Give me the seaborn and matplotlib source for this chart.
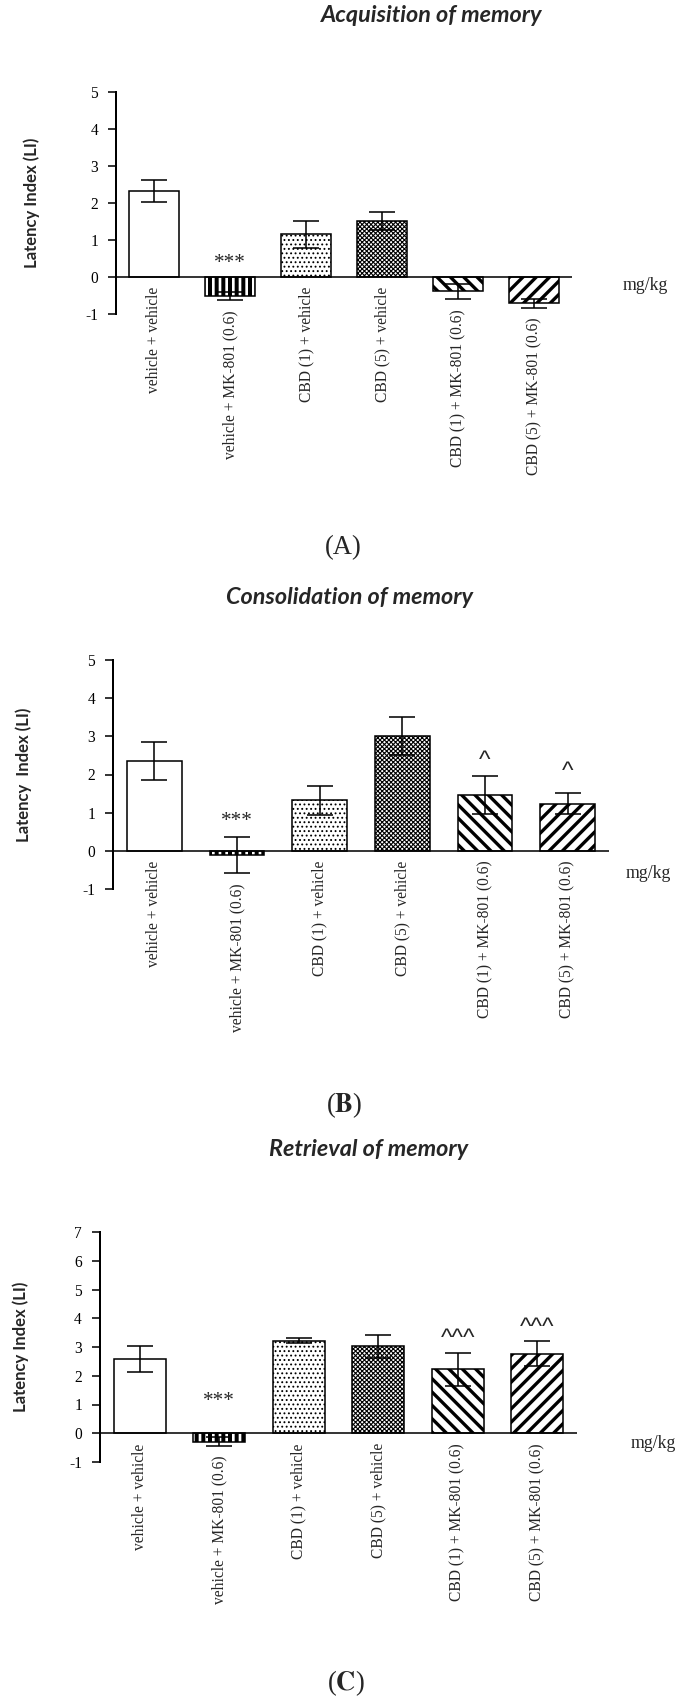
import numpy as np
import matplotlib
matplotlib.use("Agg")
import matplotlib.pyplot as plt
import seaborn as sns

# groups, shared by all three panels
groups = ["vehicle + vehicle", "vehicle + MK-801 (0.6)", "CBD (1) + vehicle",
          "CBD (5) + vehicle", "CBD (1) + MK-801 (0.6)", "CBD (5) + MK-801 (0.6)"]

# (A) acquisition
acq_mean = [2.32, -0.52, 1.15, 1.52, -0.39, -0.71]
acq_sem = [0.30, 0.11, 0.36, 0.25, 0.21, 0.12]
acq_marks = ["", "***", "", "", "", ""]
acq_mark_y = [0, 0.51, 0, 0, 0, 0]

# (B) consolidation
con_mean = [2.35, -0.12, 1.32, 3.00, 1.47, 1.24]
con_sem = [0.50, 0.47, 0.38, 0.50, 0.50, 0.27]
con_marks = ["", "***", "", "", "^", "^"]
con_mark_y = [0, 0.90, 0, 0, 2.55, 2.27]

# (C) retrieval
ret_mean = [2.58, -0.29, 3.22, 3.02, 2.23, 2.77]
ret_sem = [0.45, 0.15, 0.08, 0.40, 0.57, 0.43]
ret_marks = ["", "***", "", "", "^^^", "^^^"]
ret_mark_y = [0, 1.30, 0, 0, 3.53, 3.93]

sns.set_style("white")
plt.rcParams["font.family"] = ["Liberation Serif", "DejaVu Serif"]
plt.rcParams["axes.unicode_minus"] = False
plt.rcParams["mathtext.fontset"] = "stix"

W, H = 695, 1707
DPI = 80
fig = plt.figure(figsize=(W / DPI, H / DPI), dpi=DPI)

hatches = ["", "||", "...", "xxxxxx", "\\\\", "//"]
hatch_lw = [1.0, 3.6, 1.0, 1.0, 3.0, 3.0]


def px_axes(left, right, top, bottom):
    return [left / W, 1 - bottom / H, (right - left) / W, (bottom - top) / H]


def panel(rect, means, sems, marks, mark_y, ylim, ylabel, ylabel_x, mg_pos):
    ax = fig.add_axes(rect)
    sns.barplot(x=groups, y=means, ax=ax, color="white", saturation=1,
                edgecolor="black", linewidth=1.4, width=0.66, errorbar=None)
    for i, bar in enumerate(ax.patches):
        bar.set_hatch(hatches[i])
        if hasattr(bar, "set_hatch_linewidth"):
            bar.set_hatch_linewidth(hatch_lw[i])
    ax.errorbar(np.arange(len(means)), means, yerr=sems, fmt="none",
                ecolor="black", elinewidth=1.4, capsize=11.5, capthick=1.4,
                zorder=5)
    ax.axhline(0, color="black", lw=1.4, zorder=6)
    ax.set_xlim(-0.5, len(means) - 0.5)
    ax.set_ylim(*ylim)
    ax.set_yticks(range(ylim[0], ylim[1] + 1))
    ax.set_xticks([])
    ax.set_xlabel("")
    for s in ["top", "right", "bottom"]:
        ax.spines[s].set_visible(False)
    ax.spines["left"].set_linewidth(1.8)
    ax.spines["left"].set_color("black")
    ax.tick_params(axis="y", direction="out", length=7.2, width=1.4,
                   pad=9, labelsize=14, left=True, colors="black")
    ax.set_ylabel(ylabel, family=["Lato", "DejaVu Sans"], fontweight="bold",
                  fontsize=15, va="center")
    ax.yaxis.set_label_coords(ylabel_x, 0.5)
    ax.patch.set_alpha(0)

    # category names hang under each bar
    for i, (m, e) in enumerate(zip(means, sems)):
        y = min(0, m - e)
        ax.annotate(groups[i], (i, y), xytext=(0, -9), textcoords="offset points",
                    rotation=90, ha="center", va="top", fontsize=14,
                    annotation_clip=False)
    # significance marks
    for i, mk in enumerate(marks):
        if not mk:
            continue
        if "*" in mk:
            ax.annotate(mk, (i, mark_y[i]), xytext=(0, -0.47 * 19),
                        textcoords="offset points", ha="center", va="baseline",
                        fontsize=19, annotation_clip=False)
        else:
            ax.annotate(mk, (i, mark_y[i]), xytext=(0, -0.56 * 22),
                        textcoords="offset points", ha="center", va="baseline",
                        fontsize=22, family=["Liberation Sans", "DejaVu Sans"],
                        annotation_clip=False)
    ax.text(mg_pos[0], mg_pos[1], "mg/kg", ha="left", va="center",
            fontsize=16, clip_on=False)
    return ax


title_kw = dict(ha="center", va="center", fontsize=21, fontweight="bold",
                style="italic", family=["Lato", "DejaVu Sans"])

fig.text(432 / W, 1 - 16 / H, "Acquisition of memory", **title_kw)
panel(px_axes(116, 572, 92, 314), acq_mean, acq_sem, acq_marks, acq_mark_y,
      (-1, 5), "Latency Index (LI)", -0.184, (6.16, -0.24))
fig.text(343 / W, 1 - 548 / H, "(A)", ha="center", va="center", fontsize=24)

fig.text(350 / W, 1 - 597 / H, "Consolidation of memory", **title_kw)
panel(px_axes(113, 609, 660, 889), con_mean, con_sem, con_marks, con_mark_y,
      (-1, 5), "Latency  Index (LI)", -0.181, (5.7, -0.6))
fig.text(344 / W, 1 - 1105 / H, r"($\mathbf{B}$)", ha="center", va="center",
         fontsize=24)

fig.text(369 / W, 1 - 1149 / H, "Retrieval of memory", **title_kw)
panel(px_axes(100, 577, 1232, 1462), ret_mean, ret_sem, ret_marks, ret_mark_y,
      (-1, 7), "Latency Index (LI)", -0.166, (6.18, -0.35))
fig.text(346 / W, 1 - 1683 / H, r"($\mathbf{C}$)", ha="center", va="center",
         fontsize=24)

fig.savefig("out.png", dpi=DPI)
